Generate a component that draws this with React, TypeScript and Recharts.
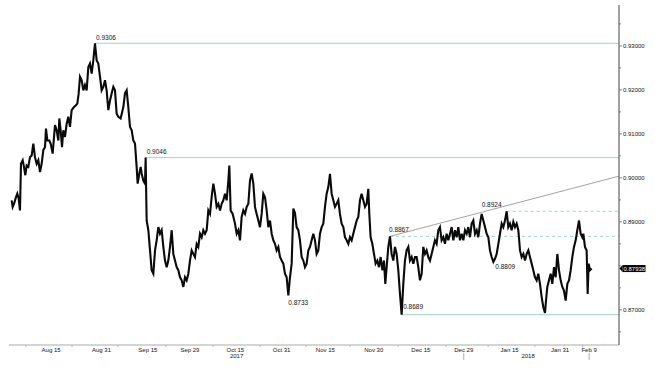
import React from 'react';
import { LineChart, Line, XAxis, YAxis, ReferenceLine, ReferenceDot } from 'recharts';

// business days since Aug 1 2017
const days = [
  0.63, 0.87, 1.19, 1.66, 1.98, 2.3, 2.61, 2.85, 3.25, 3.56, 3.88, 4.2, 4.59, 4.99, 5.39, 5.78, 6.18, 6.58, 6.97, 7.37,
  7.76, 8.16, 8.56, 8.79, 9.11, 9.59, 9.9, 10.38, 10.7, 10.93, 11.33, 11.73, 11.96, 12.28, 12.6, 12.91, 13.31, 13.71, 14.1, 14.5,
  14.89, 15.45, 15.92, 16.24, 16.56, 16.88, 17.27, 17.67, 18.06, 18.46, 18.86, 19.25, 19.65, 20.04, 20.44, 20.84, 21.23, 21.63, 22.02, 22.42,
  22.82, 23.21, 23.61, 24.01, 24.4, 24.8, 25.19, 25.59, 25.99, 26.54, 27.18, 27.57, 27.97, 28.36, 28.76, 29.16, 29.55, 29.95, 30.34, 30.58,
  30.98, 31.3, 31.53, 31.93, 32.33, 32.48, 32.72, 33.12, 33.52, 33.91, 34.31, 34.71, 35.1, 35.5, 35.89, 36.29, 36.69, 37.08, 37.48, 37.87,
  38.27, 38.67, 39.06, 39.46, 39.86, 40.25, 40.65, 41.04, 41.44, 41.84, 42.23, 42.63, 43.02, 43.42, 43.82, 44.21, 44.61, 45.0, 45.4, 45.8,
  46.19, 46.59, 46.99, 47.38, 47.78, 48.17, 48.57, 48.97, 49.36, 49.76, 50.16, 50.55, 50.95, 51.34, 51.74, 52.14, 52.37, 52.69, 53.17, 53.72,
  54.12, 54.51, 54.91, 55.3, 55.7, 56.1, 56.49, 56.89, 57.29, 57.68, 58.08, 58.47, 58.87, 59.27, 59.66, 60.06, 60.45, 60.85, 61.25, 61.64,
  62.04, 62.44, 62.83, 63.23, 63.62, 64.02, 64.42, 64.81, 65.21, 65.6, 66.0, 66.4, 66.79, 67.19, 67.59, 67.98, 68.37, 68.77, 69.17, 69.56,
  69.96, 70.36, 70.75, 71.15, 71.54, 71.94, 72.34, 72.73, 73.13, 73.52, 73.92, 74.32, 74.71, 75.11, 75.51, 75.9, 76.3, 76.69, 77.09, 77.49,
  77.88, 78.28, 78.67, 79.07, 79.47, 79.86, 80.26, 80.66, 81.05, 81.45, 81.84, 82.24, 82.64, 83.03, 83.43, 83.82, 84.22, 84.62, 85.01, 85.41,
  85.65, 85.96, 86.36, 86.76, 87.15, 87.55, 87.95, 88.34, 88.74, 89.13, 89.45, 89.77, 90.16, 90.56, 90.95, 91.35, 91.75, 92.14, 92.54, 92.94,
  93.33, 93.73, 94.12, 94.52, 94.92, 95.31, 95.71, 96.11, 96.5, 96.9, 97.29, 97.69, 98.09, 98.48, 98.88, 99.27, 99.67, 100.07, 100.46, 100.86,
  101.25, 101.65, 102.05, 102.44, 102.84, 103.23, 103.63, 104.03, 104.43, 104.83, 105.22, 105.62, 106.02, 106.41, 106.81, 107.2, 107.6, 108.0, 108.39, 108.79,
  109.18, 109.58, 109.98, 110.37, 110.77, 111.17, 111.56, 111.96, 112.35, 112.75, 113.15, 113.54, 113.94, 114.33, 114.73, 115.13, 115.52, 115.92, 116.32, 116.71,
  117.11, 117.5, 117.9, 118.3, 118.69, 119.09, 119.48, 119.88, 120.28, 120.67, 121.07, 121.47, 121.86, 122.26, 122.65, 123.05, 123.45, 123.84, 124.24, 124.63,
  125.03, 125.43, 125.82, 126.22, 126.62, 127.01, 127.41, 127.65, 127.96, 128.36, 128.76, 129.15, 129.55, 129.94, 130.34, 130.74, 131.13, 131.53, 131.92, 132.32,
  132.72, 133.11, 133.51, 133.9, 134.3, 134.7, 135.09, 135.49, 135.88, 136.28, 136.52, 136.91, 137.31, 137.55, 137.79, 138.1, 138.5,
];

const closes = [
  0.8949, 0.8934, 0.8941, 0.8956, 0.8964, 0.8953, 0.8926, 0.9032, 0.904, 0.9025, 0.9006, 0.9028, 0.9025, 0.9047, 0.9051, 0.9078, 0.9047, 0.9032, 0.904, 0.9013,
  0.9032, 0.9063, 0.907, 0.9112, 0.9085, 0.9085, 0.9078, 0.9055, 0.9093, 0.912, 0.9108, 0.9085, 0.9135, 0.9108, 0.907, 0.9108, 0.9093, 0.9123, 0.9139, 0.9116,
  0.9154, 0.9161, 0.9165, 0.9169, 0.9192, 0.923, 0.9222, 0.9199, 0.9211, 0.9199, 0.9252, 0.926, 0.9237, 0.9267, 0.9306, 0.9267, 0.926, 0.923, 0.9199, 0.9207,
  0.9222, 0.9199, 0.9154, 0.9176, 0.9192, 0.9207, 0.9199, 0.9146, 0.9139, 0.9135, 0.9161, 0.9192, 0.9199, 0.9161, 0.9116, 0.9108, 0.9085, 0.9078, 0.9025, 0.8987,
  0.901, 0.9025, 0.901, 0.8994, 0.8987, 0.9046, 0.8903, 0.8881, 0.8835, 0.879, 0.8782, 0.8835, 0.8858, 0.8888, 0.8873, 0.8881, 0.8843, 0.8812, 0.8797, 0.8812,
  0.8843, 0.8881, 0.8827, 0.8812, 0.8797, 0.879, 0.8774, 0.8767, 0.8752, 0.8774, 0.8767, 0.8782, 0.8812, 0.8835, 0.8827, 0.882, 0.885, 0.8843, 0.8873, 0.8865,
  0.8881, 0.8873, 0.8881, 0.8926, 0.8918, 0.8956, 0.8987, 0.8964, 0.8934, 0.8941, 0.8926, 0.8941, 0.8949, 0.8964, 0.8949, 0.8994, 0.9028, 0.8926, 0.8918, 0.8896,
  0.8873, 0.8881, 0.8858, 0.8911, 0.8926, 0.8918, 0.8934, 0.8941, 0.8994, 0.901, 0.8987, 0.8934, 0.8918, 0.8903, 0.8888, 0.8918, 0.8964, 0.8956, 0.8926, 0.8888,
  0.8903, 0.8873, 0.8858, 0.885, 0.8835, 0.8843, 0.882, 0.8812, 0.8805, 0.8782, 0.8774, 0.8733, 0.8774, 0.8805, 0.893, 0.892, 0.8888, 0.8881, 0.8858, 0.882,
  0.8812, 0.8797, 0.8805, 0.8835, 0.8843, 0.8858, 0.8873, 0.8858, 0.8827, 0.8835, 0.8873, 0.8888, 0.8896, 0.8934, 0.8964, 0.8979, 0.9009, 0.8964, 0.8949, 0.8934,
  0.8941, 0.8949, 0.8918, 0.8896, 0.8888, 0.8865, 0.8858, 0.885, 0.8865, 0.8858, 0.8873, 0.8888, 0.8903, 0.8911, 0.8949, 0.8964, 0.8949, 0.8934, 0.8941, 0.8975,
  0.8918, 0.8865, 0.885, 0.8827, 0.8805, 0.8812, 0.8797, 0.882, 0.879, 0.8812, 0.8759, 0.8797, 0.8843, 0.8867, 0.8827, 0.8812, 0.8843, 0.8827, 0.879, 0.8736,
  0.8689, 0.8759, 0.8812, 0.8835, 0.8843, 0.8812, 0.882, 0.8805, 0.882, 0.882, 0.8797, 0.8767, 0.8782, 0.8843, 0.8827, 0.8835, 0.882, 0.8812, 0.8827, 0.8843,
  0.8858, 0.885, 0.8881, 0.8888, 0.8858, 0.8865, 0.885, 0.8873, 0.8858, 0.8873, 0.8888, 0.8858, 0.8881, 0.8865, 0.8888, 0.8858, 0.8873, 0.8858, 0.8881, 0.8873,
  0.8888, 0.8865, 0.8896, 0.8903, 0.8873, 0.8881, 0.8865, 0.8896, 0.8918, 0.8903, 0.8888, 0.8873, 0.8865, 0.8835, 0.882, 0.8809, 0.8816, 0.8827, 0.885, 0.8873,
  0.8896, 0.8888, 0.8903, 0.8924, 0.8888, 0.8896, 0.8881, 0.89, 0.8888, 0.8896, 0.8881, 0.8835, 0.882, 0.8827, 0.8812, 0.8827, 0.8835, 0.882, 0.8805, 0.879,
  0.8774, 0.8767, 0.8782, 0.8759, 0.8729, 0.8706, 0.8693, 0.8721, 0.8752, 0.8767, 0.8782, 0.8759, 0.8797, 0.8774, 0.8827, 0.879, 0.8767, 0.8752, 0.8744, 0.8721,
  0.8759, 0.8767, 0.879, 0.882, 0.8843, 0.8858, 0.8881, 0.8903, 0.8873, 0.8865, 0.8873, 0.8843, 0.8835, 0.8736, 0.8805, 0.879, 0.87938,
];

const data = days.map((t, i) => ({ t, price: closes[i] }));

const xLabelDays = [10, 22, 33, 43, 53.8, 64.8, 75.2, 86.7, 97.9, 108.1, 119, 131, 137.9];
const xLabels = ['Aug 15', 'Aug 31', 'Sep 15', 'Sep 29', 'Oct 15', 'Oct 31', 'Nov 15', 'Nov 30', 'Dec 15', 'Dec 29', 'Jan 15', 'Jan 31', 'Feb 9'];
const minorDays = [4, 15, 25.9, 37.3, 48.5, 59.7, 70.6, 81.1, 92.5, 103.9, 113.9, 125, 136.4];
const yearDays = [54.1, 123.4];
const yearLabels = ['2017', '2018'];
const separatorDays = [108.1, 137.9];

const yMajor = [0.87, 0.89, 0.9, 0.91, 0.92, 0.93];
const yMinor = [0.865, 0.875, 0.88, 0.885, 0.895, 0.905, 0.915, 0.925, 0.935];

const levelPrices = [0.9306, 0.9046, 0.8689];
const levelStart = [20.44, 32.48, 93.33];
const dashedPrices = [0.8867, 0.8924];
const dashedStart = [90.56, 118.3];
const trendStart = { t: 90.56, price: 0.8867 };
const trendEnd = { t: 145, price: 0.9004 };

const noteTexts = ['0.9306', '0.9046', '0.8733', '0.8867', '0.8924', '0.8809', '0.8689'];
const noteDays = [20.44, 32.48, 66.4, 90.56, 112.35, 115.13, 93.33];
const notePrices = [0.9306, 0.9046, 0.8733, 0.8867, 0.8924, 0.8809, 0.8689];
const noteOffsets = [[1, -3], [1, -3.5], [0, 10], [-1, -4], [0, -4], [2, 7], [1.5, -6]];

const lastPrice = 0.87938;

const FONT = '"Liberation Sans", Arial, sans-serif';
const TEAL = '#9fd3cc';

const XTick = ({ x, y, payload }: any) => {
  const v = payload.value;
  const i = xLabelDays.indexOf(v);
  if (i >= 0) {
    return (
      <g>
        <text x={x} y={y + 6.5} textAnchor="middle" fontSize={6} fontFamily={FONT} fill="#111">{xLabels[i]}</text>
        {separatorDays.includes(v) && <line x1={x} x2={x} y1={y + 8} y2={y + 15} stroke="#999" strokeWidth={0.8} />}
      </g>
    );
  }
  const j = yearDays.indexOf(v);
  if (j >= 0) {
    return <text x={x} y={y + 13} textAnchor="middle" fontSize={6} fontFamily={FONT} fill="#111">{yearLabels[j]}</text>;
  }
  return <line x1={x} x2={x} y1={y} y2={y + 2} stroke="#aaa" strokeWidth={0.8} />;
};

const YTick = ({ x, y, payload }: any) => {
  const v = payload.value;
  const major = yMajor.includes(v);
  return (
    <g>
      <line x1={x} x2={x + (major ? 3 : 2)} y1={y} y2={y} stroke="#666" strokeWidth={0.8} />
      {major && (
        <text x={x + 4} y={y + 2} fontSize={6} fontFamily={FONT} fill="#111">{v.toFixed(5)}</text>
      )}
    </g>
  );
};

const LastPriceShape = ({ cx, cy }: any) => (
  <g>
    <polygon points={`${cx + 0.5},${cy} ${cx + 3.5},${cy - 3.5} ${cx + 3.5},${cy + 3.5}`} fill="#000" />
    <rect x={cx + 3.5} y={cy - 3.5} width={23} height={7} fill="#000" />
    <text x={cx + 4.5} y={cy + 2.2} fontSize={6} fontFamily={FONT} fill="#fff">{lastPrice.toFixed(5)}</text>
  </g>
);

const App: React.FC = () => {
  const xTicks = [...xLabelDays, ...minorDays, ...yearDays].sort((a, b) => a - b);
  const yTicks = [...yMajor, ...yMinor].sort((a, b) => a - b);
  return (
    <div style={{ position: 'absolute', left: 0, top: 0, width: 657, height: 369, background: '#fff' }}>
      <LineChart width={657} height={369} data={data} margin={{ top: 5, right: 0, bottom: 0, left: 9 }}>
        <XAxis
          type="number"
          dataKey="t"
          domain={[0, 145]}
          allowDataOverflow
          ticks={xTicks}
          interval={0}
          tickSize={0}
          tickMargin={0}
          tickLine={false}
          tick={<XTick />}
          axisLine={{ stroke: '#aaa' }}
          height={24}
        />
        <YAxis
          orientation="right"
          type="number"
          domain={[0.862, 0.9393]}
          allowDataOverflow
          ticks={yTicks}
          interval={0}
          tickSize={0}
          tickMargin={0}
          tickLine={false}
          tick={<YTick />}
          axisLine={{ stroke: '#444' }}
          width={38}
        />
        {levelPrices.map((p, i) => (
          <ReferenceLine key={`lv${i}`} segment={[{ x: levelStart[i], y: p }, { x: 145, y: p }]} stroke={TEAL} strokeWidth={1} />
        ))}
        {dashedPrices.map((p, i) => (
          <ReferenceLine key={`ds${i}`} segment={[{ x: dashedStart[i], y: p }, { x: 145, y: p }]} stroke={TEAL} strokeDasharray="3 3" strokeWidth={1} />
        ))}
        <ReferenceLine
          segment={[{ x: trendStart.t, y: trendStart.price }, { x: trendEnd.t, y: trendEnd.price }]}
          stroke="#8a8a8a"
          strokeWidth={0.8}
        />
        <Line
          type="linear"
          dataKey="price"
          stroke="#0a0a0a"
          strokeWidth={2.1}
          strokeLinejoin="miter"
          dot={false}
          isAnimationActive={false}
        />
        {noteTexts.map((txt, i) => (
          <ReferenceDot
            key={`nt${i}`}
            x={noteDays[i]}
            y={notePrices[i]}
            r={1}
            shape={(props: any) => (
              <text
                x={props.cx + noteOffsets[i][0]}
                y={props.cy + noteOffsets[i][1]}
                fontSize={6.5}
                fontFamily={FONT}
                fill="#111"
              >
                {txt}
              </text>
            )}
          />
        ))}
        <ReferenceDot x={145} y={lastPrice} r={1} shape={<LastPriceShape />} />
      </LineChart>
    </div>
  );
};

export default App;
